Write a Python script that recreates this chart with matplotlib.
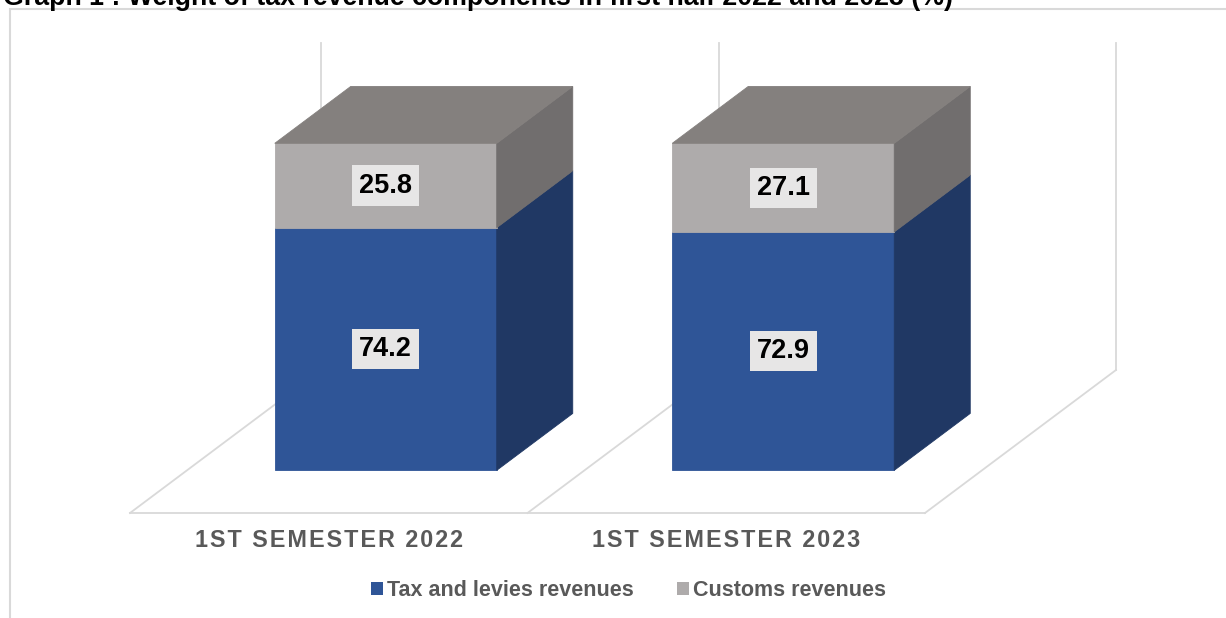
import matplotlib.pyplot as plt
from matplotlib.patches import Polygon, Rectangle, Patch

# shares of tax revenue (%) by half-year
categories = ['1ST SEMESTER 2022', '1ST SEMESTER 2023']
tax_levies = [74.2, 72.9]
customs = [25.8, 27.1]
series_names = ['Tax and levies revenues', 'Customs revenues']

plt.rcParams['font.family'] = ['Liberation Sans', 'DejaVu Sans']
plt.rcParams['font.weight'] = 'bold'

W, H = 1226, 618
fig = plt.figure(figsize=(W / 100, H / 100), dpi=100)

# plot area sits on the front edge of the floor
ax = fig.add_axes([130 / W, (H - 513) / H, 795 / W, 327 / H])
ax.set_xlim(-0.5, 1.5)
ax.set_ylim(0, 100)
ax.axis('off')

# oblique projection: shift per unit of depth, in data units
DX = 191 / 397.5
DY = 143 / 3.27


def proj(x, y, d):
    return (x + d * DX, y + d * DY)


def face(pts, color, z):
    ax.add_patch(Polygon([proj(*p) for p in pts], closed=True, facecolor=color,
                         edgecolor=color, lw=0.6, zorder=z, clip_on=False))


grid = '#D9D9D9'
for xb in [-0.5, 0.5, 1.5]:
    a, b = proj(xb, 0, 0), proj(xb, 0, 1)
    ax.plot([a[0], b[0]], [a[1], b[1]], color=grid, lw=1.3, clip_on=False, zorder=1)
    c = proj(xb, 100, 1)
    ax.plot([b[0], c[0]], [b[1], c[1]], color=grid, lw=1.3, clip_on=False, zorder=1)
ax.plot([-0.5, 1.5], [0, 0], color=grid, lw=1.3, clip_on=False, zorder=1)

# stacked 3d columns
d0, d1 = 57 / 191, 133 / 191
bw = 222 / 397.5
front_cols = ['#2F5597', '#AEABAB']
side_cols = ['#203864', '#716E6E']
top_col = '#84807E'

for i in range(len(categories)):
    bottom = 0
    segs = [tax_levies[i], customs[i]]
    for k, val in enumerate(segs):
        top = bottom + val
        l, r = i - bw / 2, i + bw / 2
        face([(l, bottom, d0), (r, bottom, d0), (r, top, d0), (l, top, d0)], front_cols[k], 3)
        face([(r, bottom, d0), (r, bottom, d1), (r, top, d1), (r, top, d0)], side_cols[k], 3)
        if k == len(segs) - 1:
            face([(l, top, d0), (r, top, d0), (r, top, d1), (l, top, d1)], top_col, 3)
        lx, ly = proj(i, bottom + val / 2, d0)
        ax.text(lx, ly, f'{val:.1f}', ha='center', va='center', fontsize=19.5,
                color='black', zorder=5,
                bbox=dict(boxstyle='square,pad=0.26', facecolor='#E7E6E6', edgecolor='none'))
        bottom = top

# category names, letter-spaced
for i, cat in enumerate(categories):
    ax.text(i, -8.3, '\u200a'.join(cat), ha='center', va='center', fontsize=16.8,
            color='#595959')

handles = [Patch(facecolor=front_cols[0]), Patch(facecolor=front_cols[1])]
fig.legend(handles, series_names, loc='center', bbox_to_anchor=(628.5 / W, 1 - 591 / H),
           ncol=2, frameon=False, fontsize=15.5, handlelength=0.55, handleheight=0.55,
           handletextpad=0.2, columnspacing=2.0, labelcolor='#595959')

fig.text(3 / W, 1 - 5 / H, 'Graph 1 : Weight of tax revenue components in first half 2022 and 2023 (%)',
         va='baseline', ha='left', fontsize=19.3, color='black')

fig.add_artist(Rectangle((10 / W, -0.5), 2, 1 - 9 / H + 0.5, transform=fig.transFigure,
                         fill=False, edgecolor='#D9D9D9', lw=1.5))

fig.savefig('out.png', dpi=100)
